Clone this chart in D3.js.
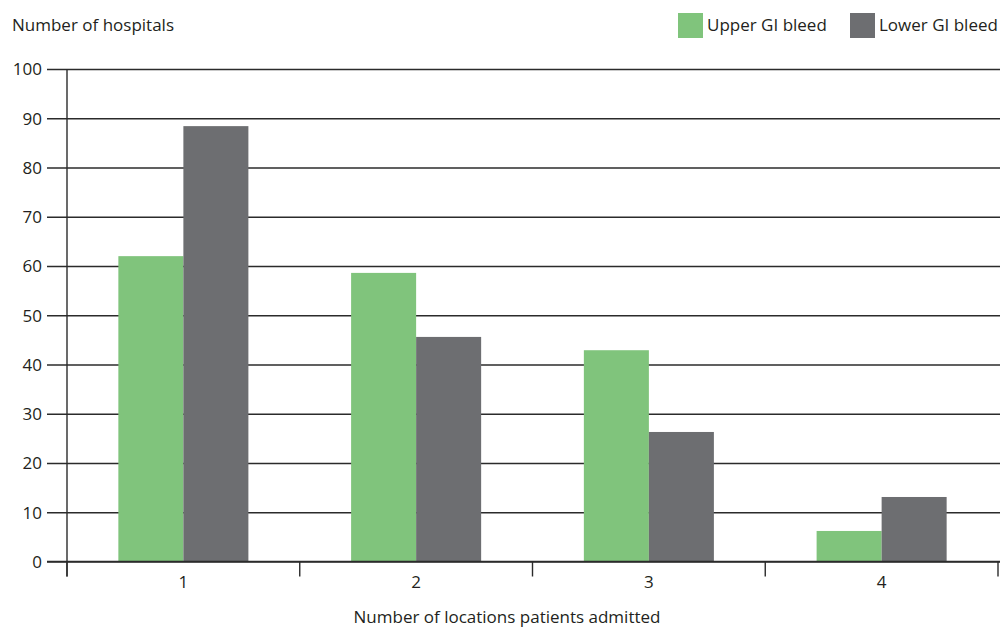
<!DOCTYPE html>
<html><head><meta charset="utf-8">
<script src="https://cdn.jsdelivr.net/npm/d3@7"></script>
<style>body{margin:0;background:#fff}svg{display:block}text{font-family:"Open Sans","Noto Sans",sans-serif;fill:#231f20}</style>
</head><body>
<svg id="c" width="1000" height="629"></svg>
<script>
const categories = ["1","2","3","4"];
const seriesNames = ["Upper GI bleed","Lower GI bleed"];
const upperGI = [62.0, 58.6, 42.9, 6.2];
const lowerGI = [88.4, 45.6, 26.3, 13.1];
const yTicks = [0,10,20,30,40,50,60,70,80,90,100];
const colors = ["#80c47c","#6d6e71"];

const svg = d3.select("#c");
const x0 = 67, x1 = 998, yTop = 69, yBot = 561.5;
const fs = "17px";
const x = d3.scaleBand().domain(categories).range([x0, x1]).paddingInner(0).paddingOuter(0);
const xs = d3.scaleBand().domain(seriesNames).range([0, x.bandwidth()]).paddingInner(0).paddingOuter(0.79);
const y = d3.scaleLinear().domain([0,100]).range([yBot, yTop]);

// gridlines
const yAxis = d3.axisLeft(y).tickValues(yTicks).tickSize(-(1000-47)).tickPadding(0).tickFormat(d3.format("d"));
const gy = svg.append("g").attr("transform","translate(47,0)").call(yAxis);
gy.select(".domain").remove();
gy.selectAll(".tick line").attr("stroke","#2b2b2b").attr("stroke-width",1.4);
gy.selectAll(".tick text").attr("x",-5).attr("dy","0.35em").style("font-size",fs).attr("fill","#231f20");

// bars
const data = categories.map((c,i)=>({c, vals:[upperGI[i], lowerGI[i]]}));
const groups = svg.append("g").selectAll("g").data(data).join("g")
  .attr("transform", d=>`translate(${x(d.c)},0)`);
groups.selectAll("rect").data(d=>d.vals.map((v,j)=>({s:seriesNames[j], v, j})))
  .join("rect")
  .attr("x", d=>xs(d.s)).attr("width", xs.bandwidth())
  .attr("y", d=>y(d.v)).attr("height", d=>yBot - y(d.v))
  .attr("fill", d=>colors[d.j]);

// x axis
const xAxis = d3.axisBottom(x).tickSize(0).tickPadding(14);
const gx = svg.append("g").attr("transform",`translate(0,${yBot})`).call(xAxis);
gx.select(".domain").attr("stroke","#2b2b2b").attr("stroke-width",1.4).attr("d",`M47,0H1000`);
gx.selectAll(".tick text").style("font-size",fs).attr("fill","#231f20");
// category boundary ticks
const bounds = categories.map(c=>x(c)).concat([x(categories[categories.length-1])+x.bandwidth()]);
gx.selectAll(".btick").data(bounds).join("line").attr("class","btick")
  .attr("x1",d=>d).attr("x2",d=>d).attr("y1",0).attr("y2",15)
  .attr("stroke","#2b2b2b").attr("stroke-width",1.4);

// y axis line
svg.append("line").attr("x1",x0).attr("x2",x0).attr("y1",yTop).attr("y2",yBot+15)
  .attr("stroke","#2b2b2b").attr("stroke-width",1.4);

// titles
svg.append("text").attr("x",12).attr("y",31).style("font-size",fs).text("Number of hospitals");
svg.append("text").attr("x",507).attr("y",623).attr("text-anchor","middle").style("font-size",fs).text("Number of locations patients admitted");

// legend
const legX = [678, 850];
const leg = svg.append("g").selectAll("g").data(seriesNames).join("g")
  .attr("transform",(d,i)=>`translate(${legX[i]},13)`);
leg.append("rect").attr("width",25).attr("height",25).attr("fill",(d,i)=>colors[i]);
leg.append("text").attr("x",29).attr("y",18).style("font-size",fs).text(d=>d);
</script>
</body></html>
